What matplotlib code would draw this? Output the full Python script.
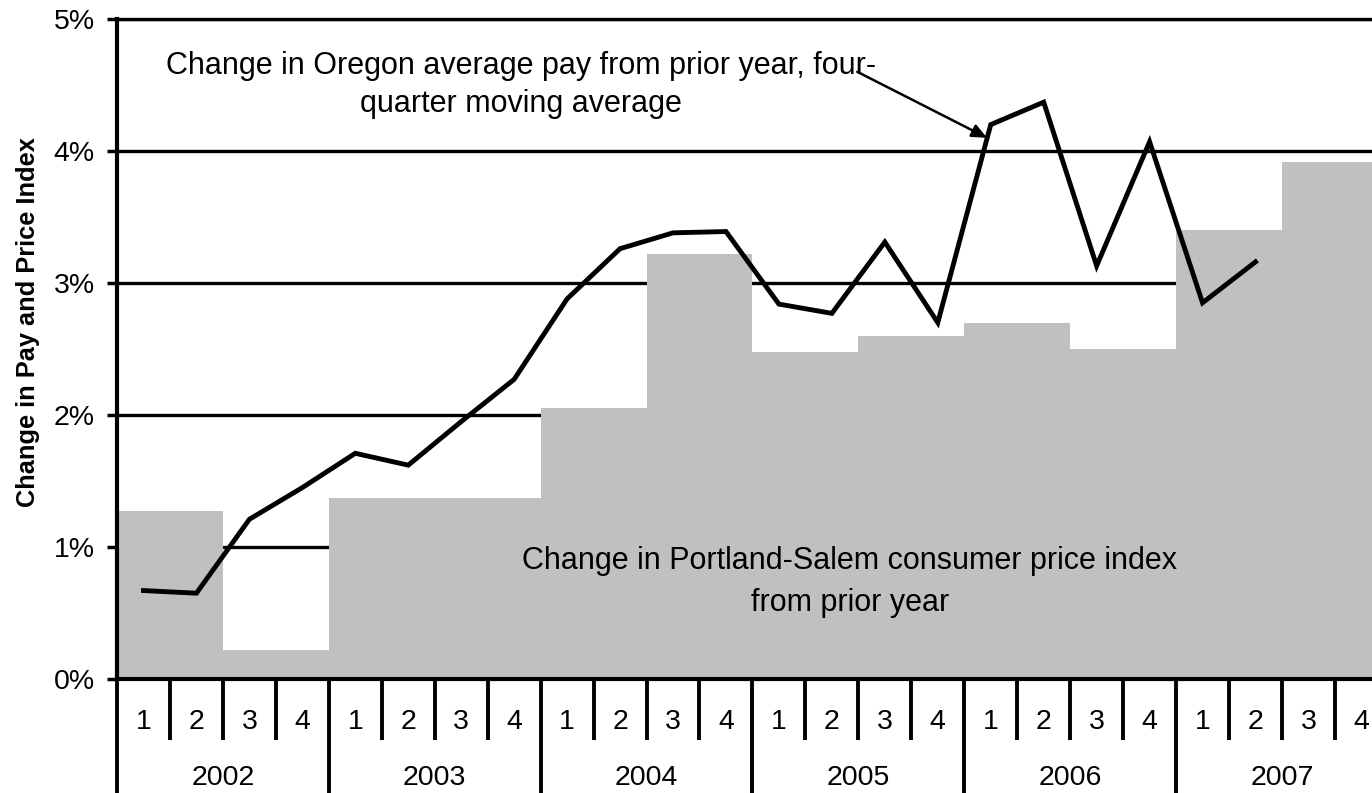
import matplotlib
matplotlib.use("Agg")
import matplotlib.pyplot as plt
import numpy as np

plt.rcParams['font.family'] = ['Liberation Sans', 'DejaVu Sans']

# ---- data ----
years = ['2002', '2003', '2004', '2005', '2006', '2007']
quarters = ['1', '2', '3', '4']
# Portland-Salem CPI change from prior year, by half-year (2002H1 .. 2007H2)
cpi_half = [1.27, 0.22, 1.37, 1.37, 2.05, 3.22, 2.48, 2.60, 2.70, 2.50, 3.40, 3.92]
# Oregon average pay change, four-quarter moving average (2002Q1 .. 2007Q2)
pay_change = [0.67, 0.65, 1.21, 1.45, 1.71, 1.62, 1.95, 2.27, 2.88, 3.26, 3.38, 3.39,
              2.84, 2.77, 3.31, 2.70, 4.20, 4.37, 3.13, 4.07, 2.85, 3.16]
y_ticks = [0, 1, 2, 3, 4, 5]

fig = plt.figure(figsize=(13.72, 7.93), dpi=100)
ax = fig.add_axes([117/1372, (793-679)/793, 1 - 117/1372, (679-19)/793])

nq = len(years) * 4
half_edges = np.arange(0, nq + 1, 2)
ax.stairs(cpi_half, half_edges, fill=True, color='#C0C0C0', zorder=2, linewidth=0)

xq = np.arange(len(pay_change)) + 0.5
ax.plot(xq, pay_change, color='black', lw=3.5, zorder=4, solid_joinstyle='miter')

ax.set_xlim(0, 23.70)
ax.set_ylim(0, 5)
ax.set_yticks(y_ticks)
ax.set_yticklabels([f'{v}%' for v in y_ticks], fontsize=20.5)
ax.tick_params(axis='y', length=7, width=2.5, pad=9, direction='out')
ax.set_xticks([])
ax.yaxis.grid(True, color='black', lw=2.4, zorder=1)
ax.set_axisbelow(True)
for s in ['top', 'right']:
    ax.spines[s].set_visible(False)
ax.spines['left'].set_linewidth(3.0)
ax.spines['bottom'].set_linewidth(3.0)
ax.spines['bottom'].set_zorder(5)
ax.spines['left'].set_zorder(5)
ax.axhline(5, color='black', lw=2.4, zorder=1, clip_on=False)

# category table below axis
trans = ax.get_xaxis_transform()
for k in range(0, nq + 1):
    if k % 4 == 0:
        ax.plot([k, k], [0, -0.18], transform=trans, color='black', lw=2.8,
                clip_on=False, solid_capstyle='butt')
    else:
        ax.plot([k, k], [0, -0.092], transform=trans, color='black', lw=2.8,
                clip_on=False, solid_capstyle='butt')
for i in range(nq):
    ax.text(i + 0.5, -0.065, quarters[i % 4], transform=trans, ha='center', va='center',
            fontsize=20.5)
for j, yr in enumerate(years):
    ax.text(j * 4 + 2, -0.15, yr, transform=trans, ha='center', va='center', fontsize=20.5)

ax.set_ylabel('Change in Pay and Price Index', fontsize=18.3, fontweight='bold')
ax.yaxis.label.set_va('center')
ax.yaxis.set_label_coords(-0.0709, 0.541)

ax.text(7.63, 4.5, 'Change in Oregon average pay from prior year, four-\nquarter moving average',
        ha='center', va='center', fontsize=22, linespacing=1.35, zorder=6)
ax.annotate('', xy=(16.43, 4.10), xytext=(13.98, 4.60),
            arrowprops=dict(arrowstyle='-|>,head_length=0.9,head_width=0.4', color='black',
                            lw=1.8, shrinkA=0, shrinkB=0), zorder=6)
ax.text(13.84, 0.735, 'Change in Portland-Salem consumer price index\nfrom prior year',
        ha='center', va='center', fontsize=22, linespacing=1.5, zorder=6)

fig.savefig('out.png', dpi=100)
